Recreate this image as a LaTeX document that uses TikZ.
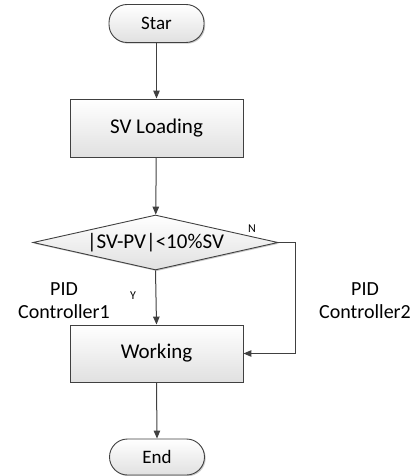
\documentclass[tikz,border=0pt]{standalone}
\usepackage{fontspec}
\setmainfont{Carlito}
\usetikzlibrary{arrows.meta,shapes.geometric,shadows}
\definecolor{edge}{HTML}{404040}
\tikzset{
  x=1pt, y=-1pt,
  boxstyle/.style={draw=edge, line width=0.9pt, top color=white, bottom color=black!12,
    drop shadow={shadow xshift=1.2pt, shadow yshift=-1.2pt, fill=black!35, opacity=0.6}},
  termstyle/.style={boxstyle, rectangle, rounded corners=18pt, minimum width=95pt, font=\fontsize{19}{22}\selectfont, inner sep=0pt},
  procstyle/.style={boxstyle, rectangle, minimum width=173pt, minimum height=58pt, font=\fontsize{21}{24}\selectfont, inner sep=0pt},
  decstyle/.style={boxstyle, diamond, aspect=4.45, minimum width=245pt, minimum height=55pt, inner sep=0pt, font=\fontsize{21}{24}\selectfont},
  conn/.style={draw=edge, line width=1pt, -{Triangle[length=8pt,width=6.5pt]}},
  lbl/.style={font=\fontsize{20}{23}\selectfont, align=center, inner sep=0pt},
  small/.style={font=\fontsize{12}{14}\selectfont, inner sep=0pt}
}
\begin{document}
\begin{tikzpicture}
\useasboundingbox (0,0) rectangle (414,476);
\node[termstyle, minimum height=38pt] (start) at (156.5,23.5) {Star};
\node[procstyle] (sv) at (156.5,128) {SV Loading};
\node[decstyle] (dec) at (155.5,242.5) {|SV-PV|<10\%SV};
\node[procstyle, minimum height=57pt] (work) at (156.5,353.5) {Working};
\node[termstyle, minimum height=36pt] (stop) at (157,457) {End};
\coordinate (nturn) at (295,242.5);
\draw[conn] (start) -- (sv);
\draw[conn] (sv) -- (dec);
\draw[conn] (dec.south) -- (work.north);
\draw[conn] (dec.east) -- (nturn) |- (work.east);
\draw[conn] (work.south) -- (stop.north);
\node[small] (nlab) at (252,229) {N};
\node[small] (ylab) at (133,296) {Y};
\node[lbl] (pid1) at (64,301) {PID\\Controller1};
\node[lbl] (pid2) at (365,301) {PID\\Controller2};
\end{tikzpicture}
\end{document}
